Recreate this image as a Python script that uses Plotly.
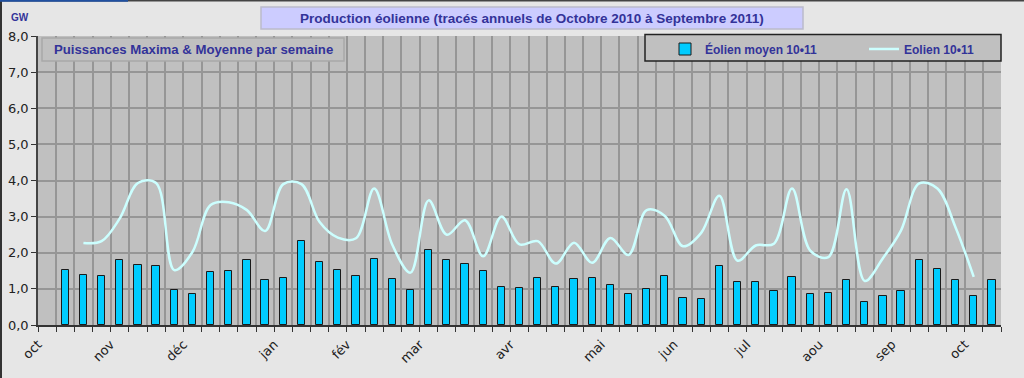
import plotly.graph_objects as go

# ---- data (weekly slots on a 53-slot axis; slot boundaries carry the month labels) ----
month_ticks = [0, 4, 8, 13, 17, 21, 26, 31, 35, 39, 43, 47, 51]
month_labels = ["oct", "nov", "déc", "jan", "fév", "mar", "avr", "mai", "jun",
                "jul", "aou", "sep", "oct"]

bar_weeks = list(range(1, 53))
bar_values = [1.52, 1.38, 1.36, 1.81, 1.66, 1.64, 0.98, 0.87, 1.48, 1.50,
              1.79, 1.25, 1.31, 2.33, 1.75, 1.52, 1.37, 1.83, 1.28, 0.97,
              2.09, 1.80, 1.68, 1.50, 1.05, 1.02, 1.31, 1.05, 1.28, 1.30,
              1.12, 0.87, 1.00, 1.35, 0.76, 0.72, 1.63, 1.20, 1.18, 0.95,
              1.34, 0.86, 0.89, 1.25, 0.64, 0.80, 0.95, 1.79, 1.56, 1.25,
              0.80, 1.25]

line_weeks = list(range(2, 52))
line_values = [2.27, 2.32, 2.95, 3.93, 3.93, 1.52, 2.02, 3.32, 3.40, 3.18,
               2.60, 3.90, 3.90, 2.85, 2.42, 2.40, 3.78, 2.22, 1.45, 3.45,
               2.50, 2.90, 1.90, 3.00, 2.23, 2.32, 1.70, 2.28, 1.72, 2.41,
               1.94, 3.18, 3.02, 2.18, 2.55, 3.58, 1.78, 2.20, 2.25, 3.78,
               2.06, 1.88, 3.76, 1.22, 1.85, 2.62, 3.92, 3.78, 2.70, 1.33]

# ---- geometry (pixels) ----
W, H = 1024, 378
L, R, T, B = 38, 1001, 36, 325


def px(x):
    return (x - L) / (R - L)


def py(y):
    return (B - y) / (B - T)


NAVY = "#333399"
fig = go.Figure()

fig.add_trace(go.Bar(
    x=[w + 0.5 for w in bar_weeks], y=bar_values, width=0.4,
    name="Éolien moyen 10•11",
    marker=dict(color="#00CCFF", line=dict(color="#1a1a1a", width=1)),
))
fig.add_trace(go.Scatter(
    x=[w + 0.5 for w in line_weeks], y=line_values, mode="lines",
    name="Eolien 10•11",
    line=dict(color="#CCFFFF", width=2.5, shape="spline", smoothing=1.0),
))

fig.update_layout(
    width=W, height=H,
    margin=dict(l=L, r=W - R, t=T, b=H - B, autoexpand=False),
    paper_bgcolor="#E6E6E6", plot_bgcolor="#C0C0C0",
    separators=", ",
    bargap=0,
    font=dict(family="DejaVu Sans", size=13, color="#222222"),
    showlegend=True,
    legend=dict(
        orientation="h", x=px(665), y=py(34.5), xanchor="left", yanchor="top",
        bgcolor="rgba(0,0,0,0)", borderwidth=0,
        font=dict(family="Liberation Sans", size=12, color=NAVY, weight="bold"),
        entrywidth=154, entrywidthmode="pixels", itemwidth=30,
    ),
    xaxis=dict(
        range=[0, 53], tickmode="array", tickvals=month_ticks, ticktext=month_labels,
        tickangle=-45, ticks="outside", ticklen=5, tickcolor="#333333",
        showgrid=True, gridcolor="#969696", gridwidth=1.5,
        showline=True, linecolor="#333333", linewidth=1.5,
        minor=dict(dtick=1, tick0=0, showgrid=True, gridcolor="#969696", gridwidth=1.5,
                   ticks="outside", ticklen=5, tickcolor="#333333"),
        zeroline=False,
        tickfont=dict(family="DejaVu Sans", size=13, color="#222222"),
    ),
    yaxis=dict(
        range=[0, 8], dtick=1, tickformat=".1f",
        ticks="outside", ticklen=5, tickcolor="#333333",
        showgrid=True, gridcolor="#969696", gridwidth=1.5,
        showline=True, linecolor="#444444", linewidth=1.5,
        zeroline=False,
        tickfont=dict(family="DejaVu Sans", size=13, color="#222222"),
    ),
)

shapes = [
    # title box
    dict(type="rect", xref="paper", yref="paper", x0=px(261), x1=px(803), y0=py(7), y1=py(29),
         fillcolor="#CCCCFF", line=dict(color="#BBBBCC", width=1.5), layer="above"),
    # subtitle box
    dict(type="rect", xref="paper", yref="paper", x0=px(42), x1=px(344), y0=py(38), y1=py(61),
         fillcolor="#C0C0C0", line=dict(color="#A8A8A8", width=1.5), layer="above"),
    # legend box
    dict(type="rect", xref="paper", yref="paper", x0=px(645), x1=px(1001), y0=py(34.5), y1=py(61),
         fillcolor="#C0C0C0", line=dict(color="#222222", width=1.5), layer="above"),
    # outer frame edges
    dict(type="line", xref="paper", yref="paper", x0=px(1), x1=px(1), y0=py(0), y1=py(H),
         line=dict(color="#333333", width=2)),
    dict(type="line", xref="paper", yref="paper", x0=px(0), x1=px(W), y0=py(0.75), y1=py(0.75),
         line=dict(color="#444444", width=1.5)),
    dict(type="line", xref="paper", yref="paper", x0=px(0), x1=px(128), y0=py(0.75), y1=py(0.75),
         line=dict(color="#2050A0", width=2)),
]
fig.update_layout(shapes=shapes)

fig.add_annotation(xref="paper", yref="paper", x=px(532), y=py(18.5), showarrow=False,
                   xanchor="center", yanchor="middle",
                   text="Production éolienne (tracés annuels de Octobre 2010 à Septembre 2011)",
                   font=dict(family="Liberation Sans", size=13.5, color=NAVY, weight="bold"))
fig.add_annotation(xref="paper", yref="paper", x=px(193), y=py(50), showarrow=False,
                   xanchor="center", yanchor="middle",
                   text="Puissances Maxima & Moyenne par semaine",
                   font=dict(family="Liberation Sans", size=13.2, color=NAVY, weight="bold"))
fig.add_annotation(xref="paper", yref="paper", x=px(19.5), y=py(17), showarrow=False,
                   xanchor="center", yanchor="middle",
                   text="GW",
                   font=dict(family="Liberation Sans", size=10, color=NAVY, weight="bold"))

fig.write_html("out.html", config={"displayModeBar": False},
               post_script="document.body.style.margin='0px';")
